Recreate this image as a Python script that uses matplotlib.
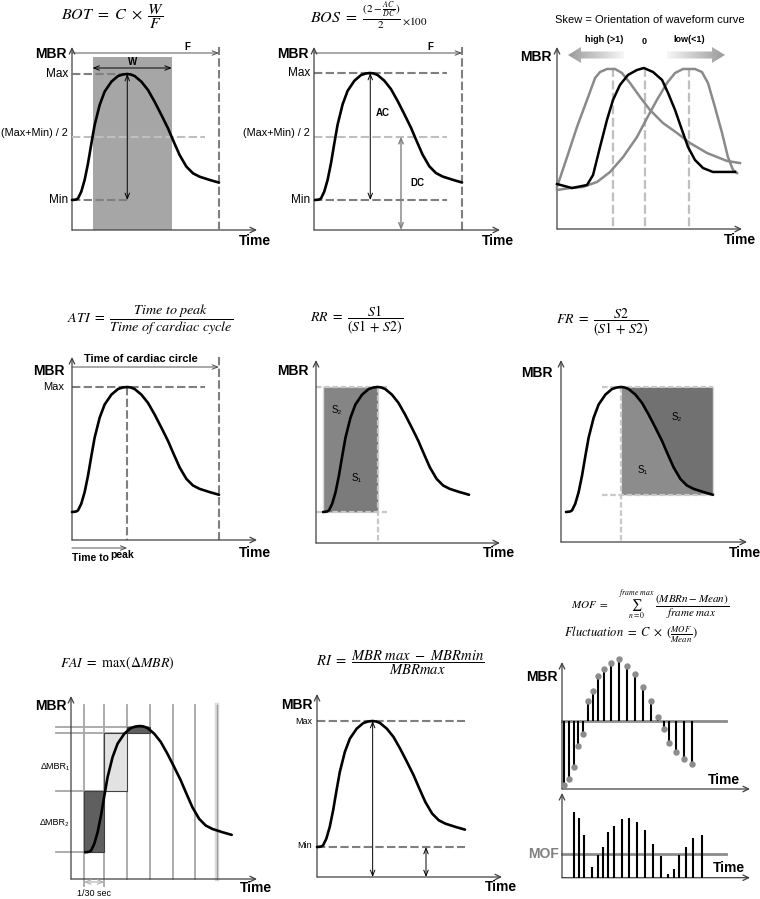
import numpy as np
import matplotlib
matplotlib.use("Agg")
import matplotlib.pyplot as plt
from matplotlib.patches import Rectangle, Polygon
import matplotlib.colors as mcolors

plt.rcParams['font.family'] = ['Liberation Sans', 'DejaVu Sans']
plt.rcParams['mathtext.fontset'] = 'stix'

FW, FH = 760, 899

# ---------------- data ----------------
# generic MBR waveform: time as fraction of cardiac cycle, MBR normalised (min=0, max=1)
wave_t = [0.0, 0.018, 0.03, 0.041, 0.063, 0.086, 0.109, 0.132, 0.154, 0.188, 0.222, 0.268,
          0.313, 0.345, 0.376, 0.40, 0.426, 0.472, 0.517, 0.562, 0.608, 0.653, 0.687, 0.732,
          0.778, 0.823, 0.868, 0.937, 1.0]
wave_v = [0.0, 0.002, 0.005, 0.013, 0.066, 0.159, 0.291, 0.45, 0.595, 0.754, 0.860, 0.939,
          0.984, 0.996, 1.0, 0.996, 0.984, 0.939, 0.873, 0.780, 0.675, 0.569, 0.476, 0.357,
          0.265, 0.212, 0.185, 0.159, 0.138]

# skew panel curves (time 0-100, MBR 0-100)
skew_black_t = [0, 8.2, 16.4, 19.7, 23.5, 27.3, 30.6, 34.4, 38.8, 43.7, 47.5, 52.5, 57.4,
                60.7, 64.5, 68.3, 71.6, 75.4, 79.8, 85.2, 90.2, 97.3]
skew_black_v = [4.9, 1.6, 4.1, 12.3, 35.2, 57.4, 73.8, 86.1, 94.3, 98.4, 100, 96.7, 90.2,
                79.5, 65.6, 49.2, 35.2, 24.6, 18.0, 14.8, 14.8, 14.8]
skew_high_t = [0, 5.5, 10.9, 16.4, 20.8, 23.5, 27.3, 31.7, 35.5, 39.9, 45.4, 50.8, 57.9,
               65.6, 72.7, 82.0, 92.9, 100]
skew_high_v = [2.5, 27.0, 51.6, 73.8, 91.8, 96.7, 99.2, 99.2, 95.9, 87.7, 76.2, 65.6, 54.9,
               46.7, 38.5, 30.3, 23.8, 22.1]
skew_low_t = [0, 7.1, 14.2, 21.9, 29.0, 36.1, 43.7, 49.2, 54.6, 60.1, 64.5, 68.9, 75.4,
              79.2, 82.5, 86.3, 90.2, 93.4, 96.2, 98.4]
skew_low_v = [0, 1.6, 2.5, 6.6, 14.8, 27.0, 43.4, 59.0, 73.8, 87.7, 95.9, 99.2, 99.2,
              96.7, 87.7, 68.0, 46.7, 27.0, 16.4, 13.9]
skew_peak_t = [30.6, 48.1, 72.1]

# FAI: frame times (fraction of cycle) and sampled MBR levels
fai_frame_t = [-0.007, 0.132, 0.284, 0.443, 0.598, 0.75, 0.898]
fai_levels = [0.0, 0.485, 0.942, 0.99]

# MOF: deviation of MBR from mean per frame, and absolute fluctuation per frame
mof_dev_t = [2.3, 7, 12, 16.3, 21, 25.7, 31.3, 36.3, 41.7, 49, 57.3, 65.3, 73.3, 81.3,
             89, 96.3, 102.3, 107.3, 114, 122, 129.7]
mof_dev_v = [-64, -58, -46, -25, -13, 20, 30, 45, 52, 58, 62, 55, 47, 34, 20, 4, -8, -22,
             -31, -38, -43]
mof_abs_t = [12, 17, 22, 29.7, 35.7, 40.7, 46.3, 52, 59.7, 67.3, 75.3, 83, 91.3, 99,
             105.7, 111.7, 117.3, 123.7, 131.3, 139.7]
mof_abs_v = [66, 60, 43, 11, 23, 31, 46, 52, 59, 60, 56, 48, 34, 22, 4, 9, 23, 31, 40, 43]
mof_mean = 23.4

# ---------------- styles ----------------
DG = '#7f7f7f'
LG = '#bfbfbf'
AXC = '#404040'
DASH = (0, (4, 1.6))
FINE = (0, (2.5, 1.2))

fig = plt.figure(figsize=(FW / 100, FH / 100), dpi=100)
fig.patch.set_facecolor('white')


def ft(x, y, s, size=8.5, bold=False, ha='center', va='center', color='black', **kw):
    return fig.text(x / FW, 1 - y / FH, s, fontsize=size, ha=ha, va=va, color=color,
                    fontweight='bold' if bold else 'normal', **kw)


class Panel:
    def __init__(self, box, tx, vy, ts=1.0, vs=1.0):
        left, top, right, bottom = box
        self.tx0, self.tx1 = tx
        self.vy0, self.vy1 = vy
        self.ts, self.vs = ts, vs
        self.ax = fig.add_axes([left / FW, 1 - bottom / FH, (right - left) / FW,
                                (bottom - top) / FH])
        self.ax.set_xlim(self.x(left), self.x(right))
        self.ax.set_ylim(self.y(bottom), self.y(top))
        self.ax.set_autoscale_on(False)
        self.ax.axis('off')
        arr = dict(arrowstyle='->,head_length=0.45,head_width=0.22', color=AXC, lw=0.9,
                   shrinkA=0, shrinkB=0, mutation_scale=9)
        self.ax.annotate('', xy=(1, 0), xytext=(0, 0), xycoords='axes fraction',
                         arrowprops=arr, annotation_clip=False)
        self.ax.annotate('', xy=(0, 1), xytext=(0, 0), xycoords='axes fraction',
                         arrowprops=arr, annotation_clip=False)

    def x(self, px):
        return (px - self.tx0) / (self.tx1 - self.tx0) * self.ts

    def y(self, py):
        return (self.vy0 - py) / (self.vy0 - self.vy1) * self.vs

    def line(self, xs, ys, **kw):
        kw.setdefault('clip_on', False)
        return self.ax.plot(xs, ys, **kw)

    def arrow(self, p0, p1, style='<->', color='black', lw=0.7, ms=8):
        self.ax.annotate('', xy=p1, xytext=p0,
                         arrowprops=dict(arrowstyle=style + ',head_length=0.5,head_width=0.2',
                                         color=color, lw=lw, shrinkA=0, shrinkB=0,
                                         mutation_scale=ms),
                         annotation_clip=False)


wt = np.array(wave_t)
wv = np.array(wave_v)
ip = int(np.argmax(wv))
t_peak = wt[ip]
t_rise = np.interp(0.5, wv[:ip + 1], wt[:ip + 1])
t_fall = np.interp(0.5, wv[ip:][::-1], wt[ip:][::-1])
v_end = wv[-1]


def curve(p, **kw):
    p.line(wave_t, wave_v, color='black', lw=1.9, zorder=6, solid_capstyle='round',
           solid_joinstyle='round', **kw)


# ================= Panel 1: BOT =================
p = Panel((72, 47, 257, 230), (72, 219), (200, 74))
ax = p.ax
ax.add_patch(Rectangle((t_rise, p.y(230)), t_fall - t_rise, p.y(57) - p.y(230),
                       fc='#a6a6a6', ec='none', zorder=1))
p.line([0, t_peak], [1, 1], color=DG, lw=1.5, ls=DASH, zorder=3)
p.line([0, p.x(205)], [0.5, 0.5], color=LG, lw=1.5, ls=DASH, zorder=3)
p.line([0, t_peak], [0, 0], color=DG, lw=1.5, ls=DASH, zorder=3)
p.line([1, 1], [p.y(230), p.y(47)], color=DG, lw=1.5, ls=DASH, zorder=3)
p.arrow((t_peak, 1), (t_peak, 0))
p.arrow((0, p.y(53)), (1, p.y(53)), style='->', color='#505050')
p.arrow((t_rise, p.y(68)), (t_fall, p.y(68)))
curve(p)
ft(113, 17, r'$BOT\ =\ C\ \times\ \dfrac{W}{F}$', size=11.5)
ft(67, 54, 'MBR', size=10, bold=True, ha='right')
ft(68, 74, 'Max', ha='right')
ft(68, 133, '(Max+Min) / 2', size=7.8, ha='right')
ft(68, 200, 'Min', ha='right')
ft(187, 47, 'F', size=7, bold=True)
ft(133, 62, 'W', size=7, bold=True)
ft(239, 241, 'Time', size=10, bold=True, ha='left')

# ================= Panel 2: BOS =================
p = Panel((314, 47, 500, 230), (315, 462), (200, 73))
p.line([p.x(314), p.x(447)], [1, 1], color=DG, lw=1.5, ls=DASH)
p.line([p.x(314), p.x(447)], [0.5, 0.5], color=LG, lw=1.5, ls=DASH)
p.line([p.x(314), p.x(447)], [0, 0], color=DG, lw=1.5, ls=DASH)
p.line([1, 1], [p.y(230), p.y(47)], color=DG, lw=1.5, ls=DASH)
p.arrow((t_peak, 1), (t_peak, 0))
p.arrow((p.x(401), 0.5), (p.x(401), p.y(230)), color='#808080', lw=1.0)
p.arrow((p.x(314), p.y(53)), (1, p.y(53)), style='->', color='#505050')
curve(p)
ft(310, 16, r'$BOS\ =\ \frac{(2-\frac{AC}{DC})}{2}$', size=11.5, ha='left')
ft(402, 21, r'$\times100$', size=8, ha='left')
ft(309, 54, 'MBR', size=10, bold=True, ha='right')
ft(310, 73, 'Max', ha='right')
ft(310, 133, '(Max+Min) / 2', size=7.8, ha='right')
ft(310, 200, 'Min', ha='right')
ft(430, 47, 'F', size=7, bold=True)
ft(383, 113, 'AC', size=7, bold=True)
ft(417, 183, 'DC', size=7, bold=True)
ft(482, 241, 'Time', size=10, bold=True, ha='left')

# ================= Panel 3: Skew =================
p = Panel((557, 47, 742, 229), (557, 740), (190, 68), ts=100, vs=100)
for tp in skew_peak_t:
    p.line([tp, tp], [100, p.y(229)], color=LG, lw=1.6, ls=DASH, zorder=2)
p.line(skew_high_t, skew_high_v, color='#8a8a8a', lw=1.8, zorder=4, solid_joinstyle='round')
p.line(skew_low_t, skew_low_v, color='#8a8a8a', lw=1.8, zorder=4, solid_joinstyle='round')
p.line(skew_black_t, skew_black_v, color='black', lw=1.8, zorder=5, solid_joinstyle='round')


def grad_arrow(p, x_tail, x_head, yc, body_h, head_h, head_len, c_tail, c_head):
    d = np.sign(x_head - x_tail)
    xb = x_head - d * head_len
    pts_px = [(x_tail, yc - body_h / 2), (xb, yc - body_h / 2), (xb, yc - head_h / 2),
              (x_head, yc), (xb, yc + head_h / 2), (xb, yc + body_h / 2),
              (x_tail, yc + body_h / 2)]
    pts = [(p.x(a), p.y(b)) for a, b in pts_px]
    poly = Polygon(pts, closed=True, fc='none', ec='none')
    p.ax.add_patch(poly)
    n = 256
    c0 = np.array(mcolors.to_rgb(c_tail))
    c1 = np.array(mcolors.to_rgb(c_head))
    fr = np.linspace(0, 1, n)
    img = c0[None, :] * (1 - fr[:, None]) + c1[None, :] * fr[:, None]
    img = img[None, :, :]
    if x_head < x_tail:
        img = img[:, ::-1, :]
    xl, xr = p.x(min(x_tail, x_head)), p.x(max(x_tail, x_head))
    im = p.ax.imshow(img, extent=[xl, xr, p.y(yc + head_h / 2), p.y(yc - head_h / 2)],
                     aspect='auto', interpolation='bilinear', zorder=3)
    im.set_clip_path(poly)


grad_arrow(p, 624, 568, 55, 7, 16, 13, '#f7f7f7', '#9a9a9a')
grad_arrow(p, 667, 725, 55, 7, 16, 13, '#f7f7f7', '#9a9a9a')
ft(650, 20, 'Skew = Orientation of waveform curve', size=8)
ft(552, 57, 'MBR', size=10, bold=True, ha='right')
ft(604, 40, 'high (>1)', size=6.5, bold=True)
ft(644, 42, '0', size=6.5, bold=True)
ft(689, 40, 'low(<1)', size=6.5, bold=True)
ft(724, 240, 'Time', size=10, bold=True, ha='left')

# ================= Panel 4: ATI =================
p = Panel((72, 357, 257, 540), (72, 219), (512, 387))
p.line([0, p.x(205)], [1, 1], color=DG, lw=1.5, ls=DASH)
p.line([t_peak, t_peak], [1, p.y(540)], color=DG, lw=1.5, ls=DASH)
p.line([1, 1], [p.y(357), p.y(540)], color=DG, lw=1.5, ls=DASH)
p.arrow((0, p.y(367)), (1, p.y(367)), style='->', color='#505050')
p.arrow((0, p.y(548)), (t_peak, p.y(548)), style='->', color='#505050')
curve(p)
ft(150, 320, r'$ATI\ =\ \dfrac{Time\ to\ peak}{Time\ of\ cardiac\ cycle}$', size=10.2)
ft(65, 371, 'MBR', size=10, bold=True, ha='right')
ft(64, 387, 'Max', size=8, ha='right')
ft(141, 359, 'Time of cardiac circle', size=8, bold=True)
ft(72, 558, 'Time to', size=7.5, bold=True, ha='left')
ft(110, 555.5, 'peak', size=7.5, bold=True, ha='left')
ft(239, 553, 'Time', size=10, bold=True, ha='left')

# ================= Panel 5: RR =================
p = Panel((316, 360, 500, 543), (323, 469), (512, 387))
rise_t = wt[:ip + 1]
rise_v = wv[:ip + 1]
p.ax.fill_between(rise_t, rise_v, 1, color='#858585', lw=0, zorder=1)
p.ax.fill_between(rise_t, 0, rise_v, color='#7b7b7b', lw=0, zorder=1)
p.line([p.x(316), p.x(387)], [1, 1], color='#c8c8c8', lw=1.6, ls=FINE, zorder=2)
p.line([p.x(316), p.x(387)], [0, 0], color='#c8c8c8', lw=1.6, ls=FINE, zorder=2)
p.line([0, 0], [0, 1], color='#d8d8d8', lw=1.0, zorder=2)
p.line([t_peak, t_peak], [1, p.y(543)], color='#c8c8c8', lw=1.6, ls=FINE, zorder=2)
curve(p)
ft(357, 320, r'$RR\ =\ \dfrac{S1}{(S1\,+\,S2)}$', size=10)
ft(309, 371, 'MBR', size=10, bold=True, ha='right')
ft(337, 410, 'S₂', size=7)
ft(356, 478, 'S₁', size=7)
ft(483, 553, 'Time', size=10, bold=True, ha='left')

# ================= Panel 6: FR =================
p = Panel((561, 360, 747, 542), (566, 713), (512, 387))
fall_t = wt[ip:]
fall_v = wv[ip:]
p.ax.fill_between(fall_t, fall_v, 1, color='#717171', lw=0, zorder=1)
p.ax.fill_between(fall_t, v_end, fall_v, color='#8c8c8c', lw=0, zorder=1)
p.line([p.x(602), 1], [1, 1], color='#c8c8c8', lw=1.6, ls=FINE, zorder=2)
p.line([p.x(602), 1], [v_end, v_end], color='#c8c8c8', lw=1.6, ls=FINE, zorder=2)
p.line([1, 1], [v_end, 1], color='#d8d8d8', lw=1.0, zorder=2)
p.line([t_peak, t_peak], [1, p.y(542)], color='#c8c8c8', lw=1.6, ls=FINE, zorder=2)
curve(p)
ft(602, 322, r'$FR\ =\ \dfrac{S2}{(S1\,+\,S2)}$', size=10)
ft(553, 373, 'MBR', size=10, bold=True, ha='right')
ft(677, 417, 'S₂', size=7)
ft(643, 470, 'S₁', size=7)
ft(729, 553, 'Time', size=10, bold=True, ha='left')

# ================= Panel 7: FAI =================
p = Panel((71, 696, 257, 879), (85, 231.7), (852.3, 726))
for i, ftm in enumerate(fai_frame_t):
    y_lo = p.y(886) if i < 2 else p.y(879)
    if i == len(fai_frame_t) - 1:
        p.line([ftm, ftm], [y_lo, p.y(705)], color='#dcdcdc', lw=3.2, zorder=1)
        p.line([ftm, ftm], [y_lo, p.y(705)], color='#a0a0a0', lw=1.0, zorder=1)
    else:
        p.line([ftm, ftm], [y_lo, p.y(705)], color='#a6a6a6', lw=1.3, zorder=1)
rect_cols = ['#5f5f5f', '#e2e2e2', '#5f5f5f']
for i in range(3):
    p.ax.add_patch(Rectangle((fai_frame_t[i], fai_levels[i]),
                             fai_frame_t[i + 1] - fai_frame_t[i],
                             fai_levels[i + 1] - fai_levels[i],
                             fc=rect_cols[i], ec='#404040', lw=0.8, zorder=3, clip_on=False))
for i, lev in enumerate(fai_levels):
    xe = fai_frame_t[min(i + 1, 3)]
    p.line([p.x(56), xe], [lev, lev], color='#a6a6a6', lw=1.3, zorder=2)
p.arrow((fai_frame_t[0], p.y(882)), (fai_frame_t[1], p.y(882)), color='#b0b0b0', lw=0.8)
curve(p)
ft(117, 663, r'$FAI\ =\ \mathrm{max}(\Delta MBR)$', size=10)
ft(67, 706, 'MBR', size=10, bold=True, ha='right')
ft(55, 767, 'ΔMBR₁', size=6.5)
ft(55, 822, 'ΔMBR₂', size=6.5)
ft(94, 893, '1/30 sec', size=6.5)
ft(240, 888, 'Time', size=10, bold=True, ha='left')

# ================= Panel 8: RI =================
p = Panel((317, 694, 502, 877), (317, 465), (847, 721))
p.line([0, 1], [1, 1], color=DG, lw=1.5, ls=DASH)
p.line([0, 1], [0, 0], color=DG, lw=1.5, ls=DASH)
p.arrow((t_peak, 1), (t_peak, p.y(877)))
p.arrow((p.x(426), 0), (p.x(426), p.y(877)))
curve(p)
ft(400, 663, r'$RI\ =\ \dfrac{MBR\ max\ -\ MBRmin}{MBRmax}$', size=10.5)
ft(313, 705, 'MBR', size=10, bold=True, ha='right')
ft(312, 721, 'Max', size=6.5, ha='right')
ft(312, 846, 'Min', size=6.5, ha='right')
ft(485, 887, 'Time', size=10, bold=True, ha='left')

# ================= Panel 9: MOF =================
p = Panel((562, 662, 750, 789), (562, 662), (721, 621), ts=100, vs=100)
p.line([0, p.x(726)], [0, 0], color='#8c8c8c', lw=2.0, zorder=2)
p.ax.vlines(mof_dev_t, 0, mof_dev_v, color='black', lw=1.5, zorder=3)
p.line(mof_dev_t, mof_dev_v, ls='none', marker='o', color='#8c8c8c', ms=3.6, zorder=4)
ft(558, 677, 'MBR', size=10, bold=True, ha='right')
ft(708, 780, 'Time', size=10, bold=True, ha='left')

p = Panel((562, 793, 750, 877.7), (562, 662), (877.7, 777.7), ts=100, vs=100)
p.ax.vlines(mof_abs_t, 0, mof_abs_v, color='black', lw=1.5, zorder=3)
p.line([0, p.x(726)], [mof_mean, mof_mean], color='#8c8c8c', lw=2.0, zorder=2)
ft(559, 854, 'MOF', size=10, bold=True, ha='right', color='#808080')
ft(713, 868, 'Time', size=10, bold=True, ha='left')

ft(650, 605, r'$MOF\ =\ \quad\sum_{n=0}^{frame\ max}\ \dfrac{(MBRn-Mean)}{frame\ max}$', size=8)
ft(631, 635, r'$Fluctuation\ =\ C\ \times\ (\frac{MOF}{Mean})$', size=9)

fig.savefig('out.png', dpi=100, facecolor='white')
